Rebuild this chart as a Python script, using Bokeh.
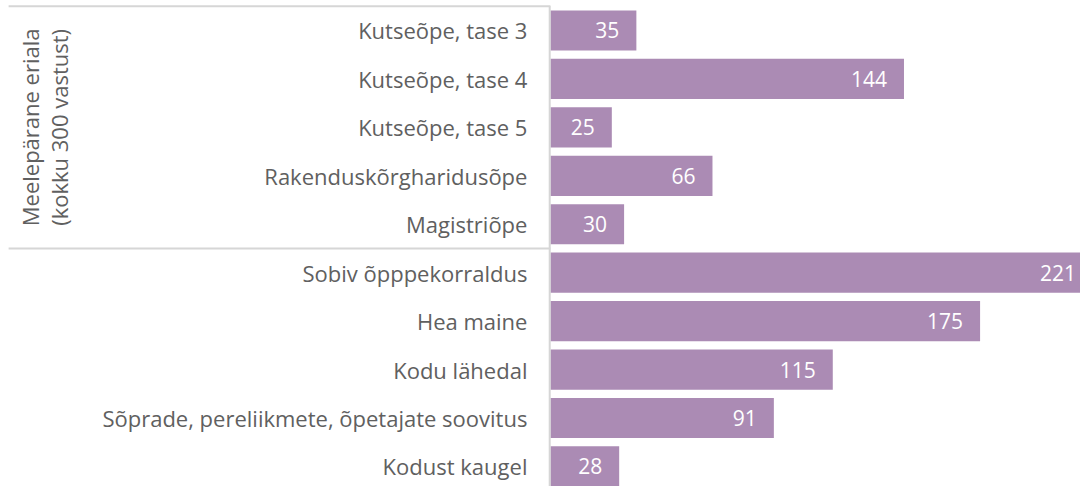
import math
from bokeh.plotting import figure
from bokeh.models import Range1d, ColumnDataSource, LabelSet
from bokeh.core.properties import value
from bokeh.embed import file_html
from bokeh.resources import INLINE

categories = [
    "Kutseõpe, tase 3",
    "Kutseõpe, tase 4",
    "Kutseõpe, tase 5",
    "Rakenduskõrgharidusõpe",
    "Magistriõpe",
    "Sobiv õpppekorraldus",
    "Hea maine",
    "Kodu lähedal",
    "Sõprade, pereliikmete, õpetajate soovitus",
    "Kodust kaugel",
]
counts = [35, 144, 25, 66, 30, 221, 175, 115, 91, 28]
group_label = "Meelepärane eriala\n(kokku 300 vastust)"
group_size = 5

FONT = value("Open Sans")
TEXT_COLOR = "#606060"
BAR_COLOR = "#AB8BB4"
LINE_COLOR = "#D6D6D6"

rows = list(range(len(categories)))
src = ColumnDataSource(dict(cat=categories, y=rows, v=counts,
                            lab=[str(c) for c in counts]))

x_lo, x_hi = -224.0, 215.9
y_top = -0.619
y_bot = 9.414

p = figure(width=1080, height=486, output_backend="svg", toolbar_location=None,
           x_range=Range1d(x_lo, x_hi), y_range=Range1d(y_bot, y_top),
           min_border=0)
p.axis.visible = False
p.grid.visible = False
p.outline_line_color = None
p.background_fill_color = "white"
p.border_fill_color = "white"

p.hbar(y="y", left=0, right="v", height=0.83, fill_color=BAR_COLOR,
       line_color=None, source=src)

# bracket lines
p.segment(x0=[x_lo + 3.3, x_lo + 3.3], y0=[-0.5, group_size - 0.5],
          x1=[0, 0], y1=[-0.5, group_size - 0.5],
          line_color=LINE_COLOR, line_width=2)
p.segment(x0=[-0.3], y0=[-0.5], x1=[-0.3], y1=[y_bot],
          line_color=LINE_COLOR, line_width=2)

cat_labels = LabelSet(x=0, y="y", text="cat", source=src, x_offset=-23,
                      text_align="right", text_baseline="middle",
                      text_font=FONT, text_font_size="22px",
                      text_color=TEXT_COLOR)
p.add_layout(cat_labels)

val_labels = LabelSet(x="v", y="y", text="lab", source=src, x_offset=-17,
                      text_align="right", text_baseline="middle",
                      text_font=FONT, text_font_size="21px",
                      text_color="white")
p.add_layout(val_labels)

p.text(x=[-206.1], y=[(group_size - 1) / 2], text=[group_label],
       angle=math.pi / 2, text_align="center", text_baseline="middle",
       text_font=FONT, text_font_size="22px", text_color=TEXT_COLOR,
       text_line_height=0.95)

open("out.html", "w").write(file_html(p, INLINE))
